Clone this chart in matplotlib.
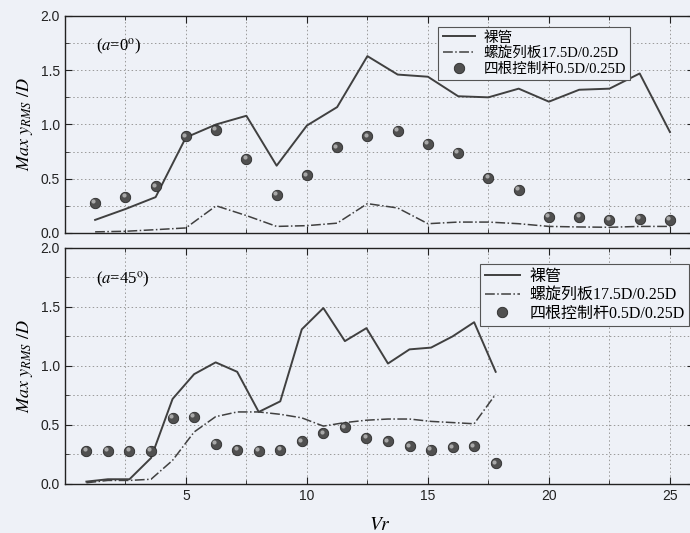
import matplotlib
matplotlib.use('Agg')
import matplotlib.pyplot as plt
from matplotlib.ticker import MultipleLocator, FixedLocator
from matplotlib.transforms import offset_copy

plt.rcParams['mathtext.fontset'] = 'stix'
plt.rcParams['font.family'] = ['Liberation Sans', 'Noto Sans CJK SC']

# 数据 (a=0°)
vr0 = [1.25, 2.5, 3.75, 5.0, 6.25, 7.5, 8.75, 10.0, 11.25, 12.5,
       13.75, 15.0, 16.25, 17.5, 18.75, 20.0, 21.25, 22.5, 23.75, 25.0]
bare0 = [0.12, 0.22, 0.33, 0.88, 1.00, 1.08, 0.62, 0.99, 1.16, 1.63,
         1.46, 1.44, 1.26, 1.25, 1.33, 1.21, 1.32, 1.33, 1.47, 0.93]
strake0 = [0.01, 0.015, 0.03, 0.046, 0.25, 0.16, 0.06, 0.067, 0.09, 0.27,
           0.23, 0.085, 0.10, 0.10, 0.085, 0.06, 0.055, 0.052, 0.06, 0.06]
rod0 = [0.28, 0.33, 0.43, 0.89, 0.95, 0.68, 0.35, 0.53, 0.79, 0.89,
        0.94, 0.82, 0.74, 0.51, 0.40, 0.15, 0.15, 0.12, 0.13, 0.12]

# 数据 (a=45°)
vr45 = [0.89, 1.78, 2.67, 3.56, 4.45, 5.34, 6.23, 7.12, 8.01, 8.9,
        9.79, 10.68, 11.57, 12.46, 13.35, 14.24, 15.13, 16.02, 16.91, 17.8]
bare45 = [0.02, 0.04, 0.04, 0.22, 0.72, 0.93, 1.03, 0.95, 0.61, 0.70,
          1.31, 1.49, 1.21, 1.32, 1.02, 1.14, 1.155, 1.25, 1.37, 0.95]
strake45 = [0.01, 0.03, 0.03, 0.04, 0.20, 0.44, 0.57, 0.61, 0.61, 0.59,
            0.56, 0.49, 0.52, 0.54, 0.55, 0.55, 0.53, 0.52, 0.51, 0.76]
rod45 = [0.28, 0.28, 0.28, 0.28, 0.56, 0.57, 0.34, 0.29, 0.28, 0.29,
         0.36, 0.43, 0.48, 0.39, 0.36, 0.32, 0.29, 0.31, 0.32, 0.175]

labels = ['裸管', '螺旋列板17.5D/0.25D', '四根控制杆0.5D/0.25D']
titles = ['($a$=0$^{\\rm o}$)', '($a$=45$^{\\rm o}$)']
xticks = [5, 10, 15, 20, 25]

bg = '#eef1f7'
fig = plt.figure(figsize=(6.9, 5.33), dpi=100, facecolor=bg)
ax1 = fig.add_axes([0.094, 0.563, 0.912, 0.407])
ax2 = fig.add_axes([0.094, 0.092, 0.912, 0.443])

# 图例位置和字号
leg_anchor = [(0.91, 0.985), (1.005, 0.965)]
leg_size = [10.5, 11.5]

data = [(ax1, vr0, bare0, strake0, rod0), (ax2, vr45, bare45, strake45, rod45)]
for k, (ax, x, b, s, r) in enumerate(data):
    ax.set_facecolor(bg)
    ax.plot(x, b, '-', color='#404040', lw=1.4, label=labels[0])
    ax.plot(x, s, '-.', color='#404040', lw=1.1, label=labels[1])
    ax.plot(x, r, 'o', ms=7.5, mfc='#505050', mec='#2a2a2a', mew=0.6,
            ls='none', label=labels[2])
    # 球体高光
    hl = offset_copy(ax.transData, fig=fig, x=-1.2, y=1.2, units='points')
    ax.plot(x, r, 'o', ms=3, mfc='#a8a8a8', mec='none', ls='none',
            transform=hl)
    ax.set_xlim(0, 26)
    ax.set_ylim(0, 2.0)
    ax.xaxis.set_major_locator(FixedLocator(xticks))
    ax.xaxis.set_minor_locator(MultipleLocator(2.5))
    ax.yaxis.set_major_locator(MultipleLocator(0.5))
    ax.yaxis.set_minor_locator(MultipleLocator(0.25))
    ax.grid(True, which='both', ls=(0, (1.5, 2.5)), color='#9a9a9a', lw=0.7)
    ax.tick_params(which='both', direction='in', top=True, right=True,
                   labelsize=10, colors='#222222')
    ax.tick_params(which='major', length=5)
    ax.tick_params(which='minor', length=3)
    for sp in ax.spines.values():
        sp.set_color('#222222')
        sp.set_linewidth(1.0)
    ax.text(0.05, 0.905, titles[k], transform=ax.transAxes, fontsize=12,
            va='top', family=['Liberation Serif', 'DejaVu Serif'])
    ax.set_ylabel(r'$Max\ y_{RMS}\ /D$', fontsize=13, labelpad=4)
    leg = ax.legend(loc='upper right', bbox_to_anchor=leg_anchor[k],
                    frameon=True, fancybox=False, edgecolor='#555555',
                    facecolor=bg, framealpha=1,
                    handlelength=2.2, borderpad=0.3, labelspacing=0.15,
                    handletextpad=0.6,
                    prop={'family': ['Liberation Serif', 'Noto Sans CJK SC'],
                          'size': leg_size[k]})
    leg.get_frame().set_linewidth(0.8)

ax1.tick_params(labelbottom=False)
ax2.set_xlabel('$Vr$', fontsize=14, labelpad=10)

fig.savefig('out.png', dpi=100, facecolor=bg)
